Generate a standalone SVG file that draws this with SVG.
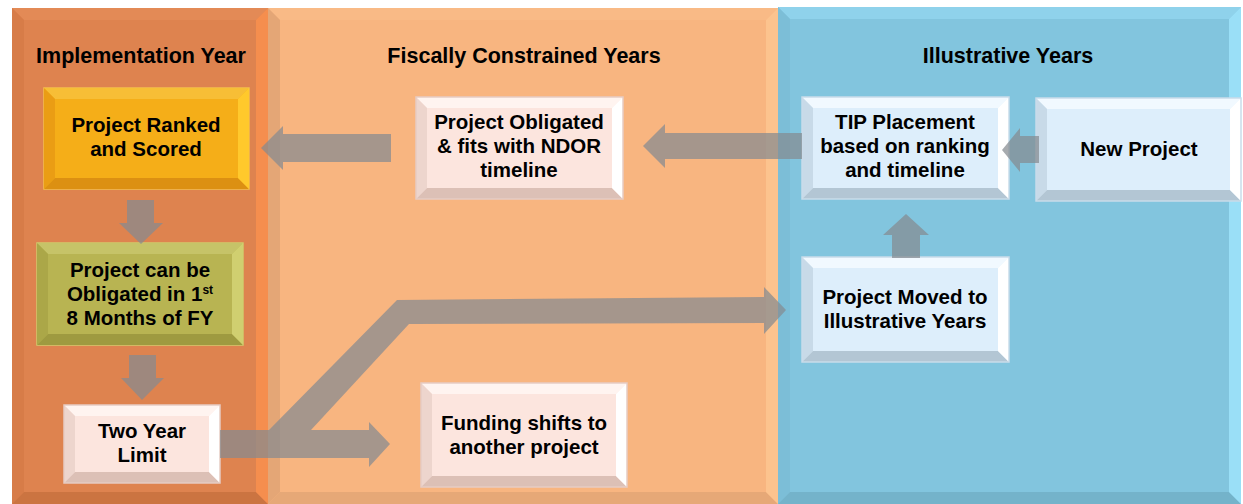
<svg xmlns="http://www.w3.org/2000/svg" width="1243" height="504" viewBox="0 0 1243 504">
<style>
text{font-family:"Liberation Sans",Arial,sans-serif;font-weight:700;fill:#000;text-anchor:middle}
.hd{font-size:21.5px}
.nt{font-size:20.5px}
.arr{fill:#858a90;fill-opacity:0.72}
.pk .f{fill:#FCE5DE}.pk .t{fill:#FFF4F0}.pk .l{fill:#EDD5CD}.pk .b{fill:#DCC0B6}.pk .r{fill:#FFFFFF}.pk .o{fill:none;stroke:#E6CCC3;stroke-width:1.5}
.bl .f{fill:#DDEEFB}.bl .t{fill:#F1F9FF}.bl .l{fill:#C8DAE8}.bl .b{fill:#B3C6D4}.bl .r{fill:#FFFFFF}.bl .o{fill:none;stroke:#C9DCEA;stroke-width:1.5}
</style>
<rect width="1243" height="504" fill="#fff"/>
<g id="panel-implementation">
<rect x="12" y="8" width="256" height="496" fill="#DE834F"/>
<polygon points="12,8 268,8 256,20 24,20" fill="#E38A56"/>
<polygon points="12,8 24,20 24,492 12,504" fill="#D77C48"/>
<polygon points="12,504 24,492 256,492 268,504" fill="#CB7441"/>
<polygon points="268,8 268,504 256,492 256,20" fill="#F58E4E"/>
<text class="hd" x="141" y="63">Implementation Year</text>
</g>
<g id="panel-fiscal">
<rect x="268" y="8" width="510" height="496" fill="#F8B580"/>
<polygon points="268,8 778,8 766,20 280,20" fill="#F9BA86"/>
<polygon points="268,8 280,20 280,492 268,504" fill="#E4A676"/>
<polygon points="268,504 280,492 766,492 778,504" fill="#E6A877"/>
<polygon points="778,8 778,504 766,492 766,20" fill="#FCC38E"/>
<text class="hd" x="524" y="63">Fiscally Constrained Years</text>
</g>
<g id="panel-illustrative">
<rect x="778" y="7" width="463" height="497" fill="#82C5DE"/>
<polygon points="778,7 1241,7 1229,19 790,19" fill="#8FD2EB"/>
<polygon points="778,7 790,19 790,492 778,504" fill="#7CBED7"/>
<polygon points="778,504 790,492 1229,492 1241,504" fill="#74B3CA"/>
<polygon points="1241,7 1241,504 1229,492 1229,19" fill="#9ADFF7"/>
<text class="hd" x="1008" y="63">Illustrative Years</text>
</g>
<g id="node-ranked">
<rect x="44" y="88" width="205" height="101" fill="#F5AE18" stroke="#F4C04C" stroke-width="1.5"/>
<polygon points="44,88 249,88 238,99 55,99" fill="#F7BE36"/>
<polygon points="44,88 55,99 55,178 44,189" fill="#EA9D14"/>
<polygon points="44,189 55,178 238,178 249,189" fill="#DC9012"/>
<polygon points="249,88 249,189 238,178 238,99" fill="#FFC92C"/>
<text class="nt" x="146" y="132">Project Ranked</text>
<text class="nt" x="146" y="156">and Scored</text>
</g>
<g id="node-first8">
<rect x="37" y="243" width="206" height="102" fill="#B8B452" stroke="#CFCB6C" stroke-width="1.5"/>
<polygon points="37,243 243,243 232,254 48,254" fill="#C6C368"/>
<polygon points="37,243 48,254 48,334 37,345" fill="#ABA748"/>
<polygon points="37,345 48,334 232,334 243,345" fill="#9E9A40"/>
<polygon points="243,243 243,345 232,334 232,254" fill="#D0CF70"/>
<text class="nt" x="140" y="277">Project can be</text>
<text class="nt" x="140" y="301">Obligated in 1<tspan font-size="12" dy="-7">st</tspan></text>
<text class="nt" x="140" y="325">8 Months of FY</text>
</g>
<g id="node-twoyear" class="pk">
<rect class="f" x="64" y="405" width="156" height="78"/>
<polygon class="t" points="64,405 220,405 209,416 75,416"/>
<polygon class="l" points="64,405 75,416 75,472 64,483"/>
<polygon class="b" points="64,483 75,472 209,472 220,483"/>
<polygon class="r" points="220,405 220,483 209,472 209,416"/>
<rect class="o" x="64" y="405" width="156" height="78"/>
<text class="nt" x="142" y="438">Two Year</text>
<text class="nt" x="142" y="462">Limit</text>
</g>
<g id="node-obligated" class="pk">
<rect class="f" x="416" y="97" width="207" height="102"/>
<polygon class="t" points="416,97 623,97 612,108 427,108"/>
<polygon class="l" points="416,97 427,108 427,188 416,199"/>
<polygon class="b" points="416,199 427,188 612,188 623,199"/>
<polygon class="r" points="623,97 623,199 612,188 612,108"/>
<rect class="o" x="416" y="97" width="207" height="102"/>
<text class="nt" x="519" y="129">Project Obligated</text>
<text class="nt" x="519" y="153">&amp; fits with NDOR</text>
<text class="nt" x="519" y="177">timeline</text>
</g>
<g id="node-funding" class="pk">
<rect class="f" x="421" y="383" width="206" height="104"/>
<polygon class="t" points="421,383 627,383 616,394 432,394"/>
<polygon class="l" points="421,383 432,394 432,476 421,487"/>
<polygon class="b" points="421,487 432,476 616,476 627,487"/>
<polygon class="r" points="627,383 627,487 616,476 616,394"/>
<rect class="o" x="421" y="383" width="206" height="104"/>
<text class="nt" x="524" y="430">Funding shifts to</text>
<text class="nt" x="524" y="454">another project</text>
</g>
<g id="node-tip" class="bl">
<rect class="f" x="802" y="97" width="207" height="102"/>
<polygon class="t" points="802,97 1009,97 998,108 813,108"/>
<polygon class="l" points="802,97 813,108 813,188 802,199"/>
<polygon class="b" points="802,199 813,188 998,188 1009,199"/>
<polygon class="r" points="1009,97 1009,199 998,188 998,108"/>
<rect class="o" x="802" y="97" width="207" height="102"/>
<text class="nt" x="905" y="129">TIP Placement</text>
<text class="nt" x="905" y="153">based on ranking</text>
<text class="nt" x="905" y="177">and timeline</text>
</g>
<g id="node-new" class="bl">
<rect class="f" x="1036" y="98" width="205" height="103"/>
<polygon class="t" points="1036,98 1241,98 1230,109 1047,109"/>
<polygon class="l" points="1036,98 1047,109 1047,190 1036,201"/>
<polygon class="b" points="1036,201 1047,190 1230,190 1241,201"/>
<polygon class="r" points="1241,98 1241,201 1230,190 1230,109"/>
<rect class="o" x="1036" y="98" width="205" height="103"/>
<text class="nt" x="1139" y="156">New Project</text>
</g>
<g id="node-moved" class="bl">
<rect class="f" x="802" y="257" width="207" height="105"/>
<polygon class="t" points="802,257 1009,257 998,268 813,268"/>
<polygon class="l" points="802,257 813,268 813,351 802,362"/>
<polygon class="b" points="802,362 813,351 998,351 1009,362"/>
<polygon class="r" points="1009,257 1009,362 998,351 998,268"/>
<rect class="o" x="802" y="257" width="207" height="105"/>
<text class="nt" x="905" y="304">Project Moved to</text>
<text class="nt" x="905" y="328">Illustrative Years</text>
</g>
<g id="connectors">
<polygon class="arr" points="391,134 283,134 283,126 261,148 283,170 283,162 391,162"/>
<polygon class="arr" points="802,133 665,133 665,124 643,146 665,168 665,159 802,159"/>
<polygon class="arr" points="1039,136 1020,136 1020,128 1002,150 1020,172 1020,163 1039,163"/>
<polygon class="arr" points="892,258 892,235 883,235 906,214 929,235 920,235 920,258"/>
<polygon class="arr" points="127,200 154,200 154,223 163,223 141,244 119,223 127,223"/>
<polygon class="arr" points="129,355 156,355 156,378 164,378 142,400 121,378 129,378"/>
<polygon class="arr" points="220,430 369,430 369,422 390,444 369,467 369,458 220,458"/>
<polygon class="arr" points="269,430 397,300 764,297 764,287 786,310 764,334 764,323 409,324 311,430"/>
</g>
</svg>
